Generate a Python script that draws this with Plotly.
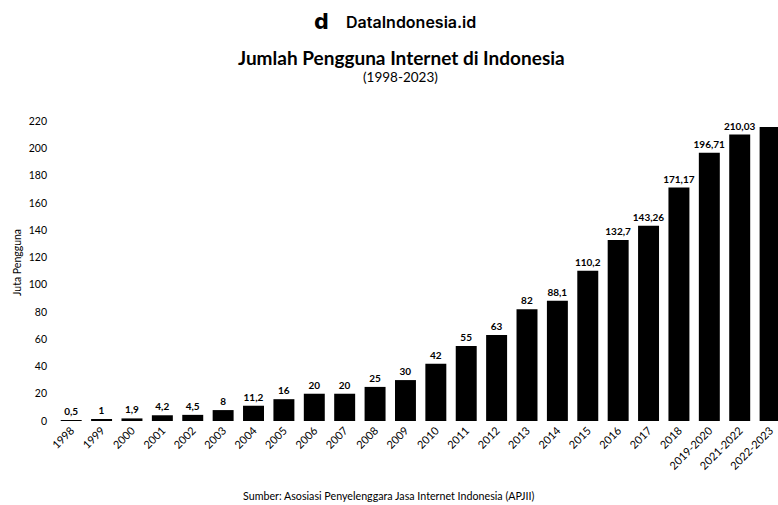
import plotly.graph_objects as go

categories = ["1998", "1999", "2000", "2001", "2002", "2003", "2004", "2005", "2006",
              "2007", "2008", "2009", "2010", "2011", "2012", "2013", "2014", "2015",
              "2016", "2017", "2018", "2019-2020", "2021-2022", "2022-2023"]
values = [0.5, 1, 1.9, 4.2, 4.5, 8, 11.2, 16, 20, 20, 25, 30, 42, 55, 63, 82, 88.1,
          110.2, 132.7, 143.26, 171.17, 196.71, 210.03, 215.63]
labels = [f"{v:g}".replace(".", ",") for v in values]
y_ticks = list(range(0, 221, 20))

W, H = 778, 505
L, R, T, B = 56, 0, 100, 84
pw, ph = W - L - R, H - T - B

def px(x):
    return (x - L) / pw

def py(y):
    return (H - B - y) / ph

FONT = "Lato"

# the last bar's label falls outside the picture in the reference
positions = ["outside"] * (len(values) - 1) + ["none"]

fig = go.Figure(go.Bar(
    x=categories, y=values, text=labels, textposition=positions,
    constraintext="none",
    textfont=dict(family=FONT, size=10, color="black", weight="bold"),
    marker=dict(color="black", line=dict(width=0)), cliponaxis=True,
))

def ann(text, x, y, size, family=FONT, weight="normal", angle=0):
    return dict(text=text, x=px(x), y=py(y), xref="paper", yref="paper",
                xanchor="center", yanchor="middle", textangle=angle, showarrow=False,
                font=dict(family=family, size=size, color="black", weight=weight))

fig.update_layout(
    width=W, height=H, margin=dict(l=L, r=R, t=T, b=B),
    paper_bgcolor="white", plot_bgcolor="white", showlegend=False,
    bargap=0.31,
    font=dict(family=FONT, color="black"),
    xaxis=dict(type="category", range=[-0.5, 23.26], tickangle=-45,
               tickfont=dict(family=FONT, size=11, color="black"),
               showgrid=False, showline=False, zeroline=False, ticks=""),
    yaxis=dict(range=[0, 235.4], tickvals=y_ticks, showgrid=False, showline=False,
               zeroline=False, ticks="", ticklabelstandoff=8,
               tickfont=dict(family=FONT, size=10.5, color="black")),
    annotations=[
        ann("<b>d</b>", 321, 22, 21, family="DejaVu Sans"),
        ann("DataIndonesia.id", 411, 22, 16, family="Inter", weight=600),
        ann("<b>Jumlah Pengguna Internet di Indonesia</b>", 401, 58, 19),
        ann("(1998-2023)", 400, 77, 13.5),
        ann("Juta Pengguna", 17, 263, 10.5, angle=-90),
        ann("Sumber: Asosiasi Penyelenggara Jasa Internet Indonesia (APJII)", 389, 495, 10.7),
    ],
)

fig.write_html("out.html")
